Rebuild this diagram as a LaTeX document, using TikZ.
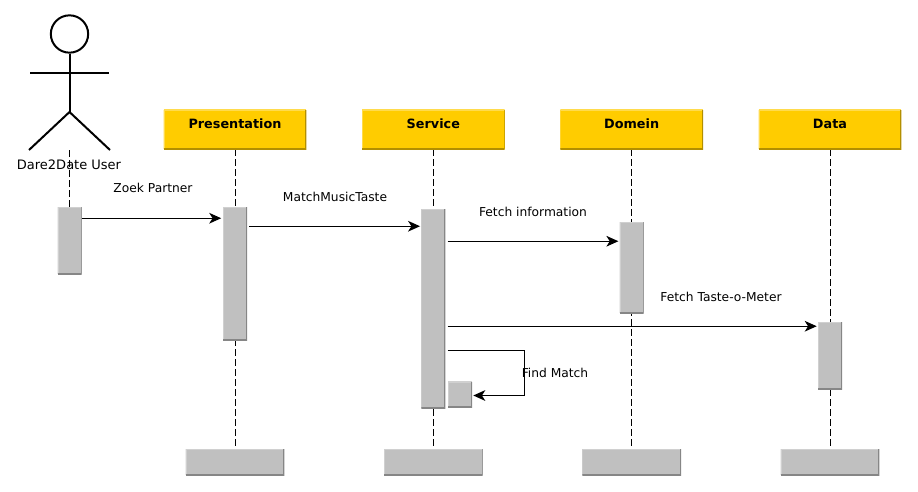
\documentclass[tikz,border=0pt]{standalone}
\usepackage{fontspec}
\setmainfont{DejaVu Sans}
\usetikzlibrary{arrows.meta,backgrounds}
\definecolor{headfill}{HTML}{FFCC00}
\definecolor{headedge}{HTML}{B38F00}
\definecolor{headtop}{HTML}{FFDB4D}
\definecolor{barfill}{HTML}{C0C0C0}
\definecolor{baredge}{HTML}{868686}
\definecolor{bartop}{HTML}{D0D0D0}
\tikzset{basic/.style={rectangle,inner sep=0pt,font=\fontsize{9.2}{11}\selectfont}}
\tikzset{bevel/.style 2 args={path picture={
    \draw[line width=1.5pt,#1] (path picture bounding box.north west) -- (path picture bounding box.north east);
    \draw[line width=1.5pt,#1] (path picture bounding box.north west) -- (path picture bounding box.south west);
    \draw[line width=1.5pt,#2] (path picture bounding box.south west) -- (path picture bounding box.south east) -- (path picture bounding box.north east);}}}
\tikzset{layer/.style={basic,font=\fontsize{9.6}{11}\selectfont,fill=headfill,bevel={headtop}{headedge},minimum width=107pt,text height=13.5pt,text depth=15.75pt}}
\tikzset{foot/.style={basic,fill=barfill,bevel={bartop}{baredge},minimum width=74pt,minimum height=19.5pt}}
\tikzset{bar/.style={basic,fill=barfill,bevel={bartop}{baredge},minimum width=18pt}}
\tikzset{msg/.style={basic}}
\tikzset{call/.style={draw,line width=0.95pt,-{Stealth[length=9pt,width=8pt,inset=2.5pt]}}}
\tikzset{life/.style={draw,line width=0.75pt,dash pattern=on 5pt off 2.5pt}}
\tikzset{limb/.style={draw,line width=1.5pt}}
\begin{document}
\begin{tikzpicture}[x=0.75pt,y=-0.75pt,node distance=148.75pt]
    \useasboundingbox (0,0) rectangle (918,492);

    % actor
    \node[circle,draw,line width=1.5pt,minimum size=28pt,inner sep=0pt] (head) at (69.5,34) {};
    \coordinate (hip) at (69.5,112);
    \coordinate (armL) at (30,73);
    \coordinate (armR) at (109,73);
    \coordinate (legL) at (29,150);
    \coordinate (legR) at (110,150);
    \coordinate (userTop) at (69.5,150);
    \node[basic,font=\fontsize{9.75}{11}\selectfont] (user) at (69,165) {Dare2Date User};
    \path[limb] (head) -- (hip);
    \path[limb,line width=1pt] (armL) -- (armR);
    \path[limb] (legL) -- (hip) -- (legR);

    % layers
    \node[layer] (pres) at (235,129.5) {\textbf{Presentation}};
    \node[layer,right of=pres] (serv) {\textbf{Service}};
    \node[layer,right of=serv] (dom) {\textbf{Domein}};
    \node[layer,right of=dom] (data) {\textbf{Data}};

    \node[foot,below of=pres,node distance=249.4pt] (presF) {};
    \node[foot,below of=serv,node distance=249.4pt] (servF) {};
    \node[foot,below of=dom,node distance=249.4pt] (domF) {};
    \node[foot,below of=data,node distance=249.4pt] (dataF) {};

    % activations
    \node[bar,minimum height=50.25pt] (userA) at (69.5,240.5) {};
    \node[bar,minimum height=99.75pt] (presA) at (pres |- 0,273.5) {};
    \node[bar,minimum height=149.25pt] (servA) at (serv |- 0,308.5) {};
    \node[bar,minimum height=68.25pt] (domA) at (dom |- 0,267.5) {};
    \node[bar,minimum height=50.25pt] (dataA) at (data |- 0,355.5) {};
    \node[bar,minimum height=19pt] (selfA) at (460,394.5) {};

    \begin{scope}[on background layer]
        \path[life] (userTop) -- (userA);
        \path[life] (pres) -- (presF);
        \path[life] (serv) -- (servF);
        \path[life] (dom) -- (domF);
        \path[life] (data) -- (dataF);
    \end{scope}

    % messages
    \path[call] ([shift={(0.5,11.5)}]userA.north east) -- ([shift={(-1.5,11.5)}]presA.north west);
    \path[call] ([shift={(2,19.5)}]presA.north east) -- ([shift={(-1,17.5)}]servA.north west);
    \path[call] ([shift={(2,32.5)}]servA.north east) -- ([shift={(-1,19.5)}]domA.north west);
    \path[call] ([shift={(2,117.5)}]servA.north east) -- ([shift={(-1,4.5)}]dataA.north west);
    \coordinate (loopB) at (524.5,395.5);
    \path[call] ([shift={(2,141.5)}]servA.north east) -| (loopB) -- ([xshift=0.75pt]selfA.east |- loopB);

    \node[msg] (m1) at (153,188) {Zoek Partner};
    \node[msg] (m2) at (335,197) {MatchMusicTaste};
    \node[msg] (m3) at (533,212) {Fetch information};
    \node[msg] (m4) at (721,297) {Fetch Taste-o-Meter};
    \node[msg] (m5) at (555,373) {Find Match};
\end{tikzpicture}
\end{document}
